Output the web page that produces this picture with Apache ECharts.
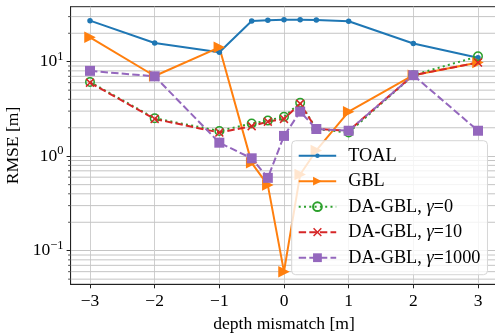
<!DOCTYPE html>
<html><head><meta charset="utf-8">
<script src="https://cdn.jsdelivr.net/npm/echarts@6/dist/echarts.min.js"></script>
<style>html,body{margin:0;padding:0;background:#fff}#c{width:495px;height:333px}</style>
</head><body><div id="c"></div>
<script>
const xValues = [-3, -2, -1, -0.5, -0.25, 0, 0.25, 0.5, 1, 2, 3];
const toal   = [27.2, 15.8, 12.6, 27.0, 27.5, 27.8, 27.8, 27.6, 26.8, 15.6, 11.0];
const gbl    = [18.1, 7.06, 14.2, 0.85, 0.495, 0.060, 0.64, 1.15, 2.96, 7.2, 9.8];
const daG0   = [6.1, 2.52, 1.85, 2.22, 2.38, 2.62, 3.68, 1.94, 1.78, 7.2, 11.4];
const daG10  = [6.0, 2.48, 1.78, 2.08, 2.32, 2.48, 3.6, 1.94, 1.86, 7.2, 9.8];
const daG1000= [8.0, 7.0, 1.39, 0.95, 0.59, 1.64, 2.96, 1.94, 1.86, 7.2, 1.86];
const xTicks = [-3, -2, -1, 0, 1, 2, 3];
const yMajorTicks = [0.1, 1, 10];
const yMinorTicks = [0.05,0.06,0.07,0.08,0.09,0.2,0.3,0.4,0.5,0.6,0.7,0.8,0.9,2,3,4,5,6,7,8,9,20,30];
const X_MIN = -3.3, X_MAX = 3.3, Y_MIN = 0.0441, Y_MAX = 38.2;

const FONT = 'Liberation Serif';
const pair = a => xValues.map((x, i) => [x, a[i]]);
const xShape = 'path://M0,1.2 L1.2,0 L5,3.8 L8.8,0 L10,1.2 L6.2,5 L10,8.8 L8.8,10 L5,6.2 L1.2,10 L0,8.8 L3.8,5 Z';
const lineDotIcon = 'path://M0,0 M37.5,11 M0,4.5 L37.5,4.5 L37.5,6.5 L0,6.5 Z M18.75,3.2 A2.3,2.3 0 1 1 18.75,7.8 A2.3,2.3 0 1 1 18.75,3.2 Z';

const chart = echarts.init(document.getElementById('c'), null, {renderer: 'canvas'});
const supMinus = s => String(s).replace('-', '\u2212');
chart.setOption({
  animation: false,
  backgroundColor: '#fff',
  grid: {left: 70.6, right: -2.4, top: 6.7, bottom: 48.7, outerBoundsMode: 'none', containLabel: false,
    show: true, borderColor: '#222', borderWidth: 1, backgroundColor: 'transparent'},
  xAxis: {
    type: 'value', min: X_MIN, max: X_MAX,
    name: 'depth mismatch [m]', nameLocation: 'middle', nameGap: 30,
    nameTextStyle: {fontFamily: FONT, fontSize: 17.6, color: '#000'},
    axisLine: {onZero: false, lineStyle: {color: '#222', width: 1}},
    axisTick: {customValues: xTicks, length: 4, lineStyle: {color: '#222'}},
    axisLabel: {customValues: xTicks, fontFamily: FONT, fontSize: 17.5, color: '#000', margin: 8,
      formatter: v => supMinus(v)},
    splitLine: {show: true, lineStyle: {color: '#cfcfcf', width: 1}}
  },
  yAxis: {
    type: 'log', logBase: 10, min: Y_MIN, max: Y_MAX,
    name: 'RMSE [m]', nameLocation: 'middle', nameGap: 46,
    nameTextStyle: {fontFamily: FONT, fontSize: 17.6, color: '#000'},
    axisLine: {show: true, onZero: false, lineStyle: {color: '#222', width: 1}},
    axisTick: {show: true, customValues: yMajorTicks, length: 4, lineStyle: {color: '#222'}},
    axisLabel: {customValues: yMajorTicks, margin: 7, fontFamily: FONT, fontSize: 17.5, color: '#000',
      formatter: v => '10{sup|' + supMinus(Math.round(Math.log10(v))) + '}',
      rich: {sup: {fontFamily: FONT, fontSize: 12.5, verticalAlign: 'top', padding: [0, 0, 10, 0]}}},
    splitLine: {show: true, lineStyle: {color: '#c4c4c4', width: 1}}
  },
  legend: {
    orient: 'vertical', left: 291.7, top: 140.7, padding: [6, 7, 8, 6],
    itemWidth: 37.5, itemHeight: 11, itemGap: 7.5,
    backgroundColor: 'rgba(255,255,255,0.8)', borderColor: '#d6d6d6', borderWidth: 1, borderRadius: 4,
    textStyle: {fontFamily: FONT, fontSize: 18.3, color: '#000', lineHeight: 18, padding: [0, 0, 0, 7],
      rich: {i: {fontFamily: FONT, fontSize: 18.3, fontStyle: 'italic', lineHeight: 18}}},
    formatter: n => n.replace('γ', '{i|γ}'),
    data: [{name: 'TOAL', icon: lineDotIcon}, 'GBL', 'DA-GBL, γ=0', 'DA-GBL, γ=10', 'DA-GBL, γ=1000']
  },
  series: [
    {type: 'custom', silent: true, clip: false, z: 1, data: yMinorTicks.map(v => [v]),
      encode: {y: 0},
      renderItem: (params, api) => {
        const v = api.value(0);
        const p1 = api.coord([X_MIN, v]), p2 = api.coord([X_MAX, v]);
        return {type: 'group', children: [
          {type: 'line', shape: {x1: p1[0], y1: p1[1], x2: p2[0], y2: p2[1]}, style: {stroke: '#c4c4c4', lineWidth: 1}},
          {type: 'line', shape: {x1: p1[0] - 2.5, y1: p1[1], x2: p1[0], y2: p1[1]}, style: {stroke: '#222', lineWidth: 0.8}}
        ]};
      }},
    {name: 'TOAL', type: 'line', data: pair(toal), symbol: 'circle', symbolSize: 5.5,
      lineStyle: {color: '#1f77b4', width: 2}, itemStyle: {color: '#1f77b4'}, z: 3},
    {name: 'GBL', type: 'line', data: pair(gbl), symbol: 'triangle', symbolRotate: -90, symbolSize: 11.5,
      lineStyle: {color: '#ff7f0e', width: 2}, itemStyle: {color: '#ff7f0e'}, z: 3},
    {name: 'DA-GBL, γ=0', type: 'line', data: pair(daG0), symbol: 'circle', symbolSize: 8.5,
      lineStyle: {color: '#2ca02c', width: 2, type: [2, 3.3]},
      itemStyle: {color: 'rgba(0,0,0,0)', borderColor: '#2ca02c', borderWidth: 1.5}, z: 3},
    {name: 'DA-GBL, γ=10', type: 'line', data: pair(daG10), symbol: xShape, symbolSize: 9,
      lineStyle: {color: '#d62728', width: 2, type: [7.4, 3.2]}, itemStyle: {color: '#d62728'}, z: 3},
    {name: 'DA-GBL, γ=1000', type: 'line', data: pair(daG1000), symbol: 'rect', symbolSize: 10,
      lineStyle: {color: '#9467bd', width: 2, type: [7.4, 3.2]}, itemStyle: {color: '#9467bd'}, z: 3}
  ]
});
</script></body></html>
